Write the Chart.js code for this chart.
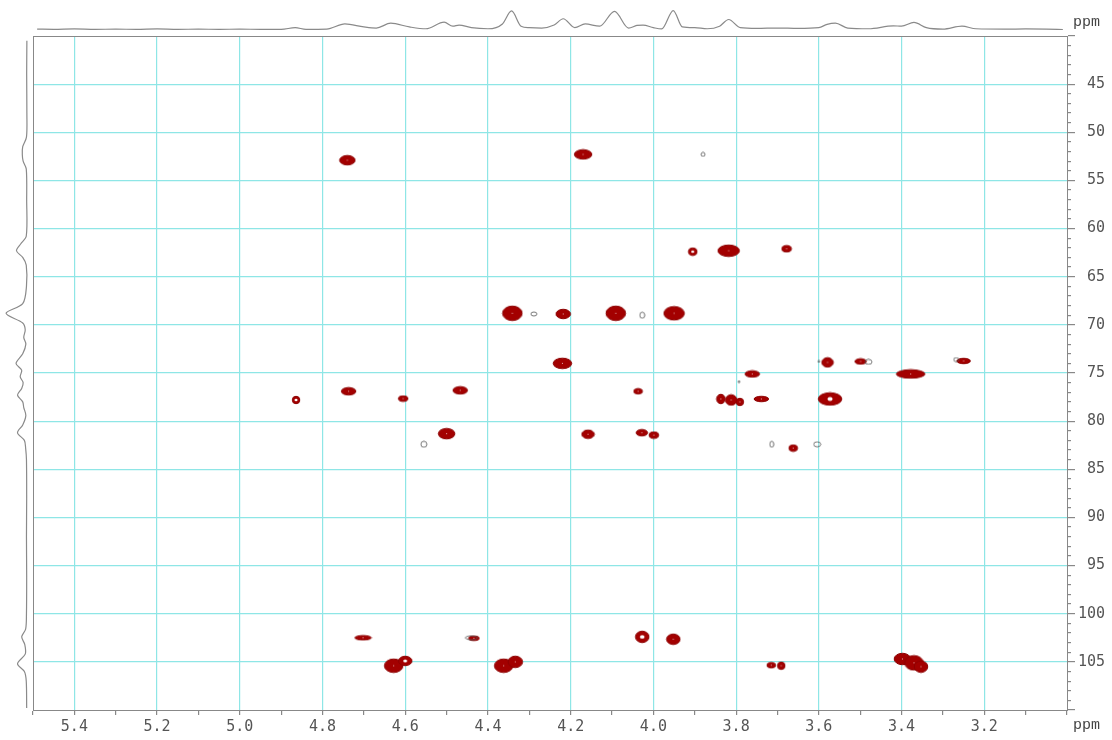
<!DOCTYPE html>
<html>
<head>
<meta charset="utf-8">
<script src="https://cdn.jsdelivr.net/npm/chart.js@4.4.1/dist/chart.umd.min.js"></script>
<style>
  html, body { margin: 0; padding: 0; background: #fff; }
  #wrap { position: relative; width: 1112px; height: 740px; }
  .box { position: absolute; }
  .ppm { position: absolute; font-family: "Liberation Mono", monospace; font-size: 15px; color: #444; }
</style>
</head>
<body>
<div id="wrap">
  <div class="box" style="left:0;top:0;width:1112px;height:740px"><canvas id="main"></canvas></div>
  <div class="box" style="left:33px;top:8px;width:1034px;height:23px"><canvas id="topProj"></canvas></div>
  <div class="box" style="left:4px;top:36px;width:26px;height:674px"><canvas id="leftProj"></canvas></div>
  <span class="ppm" style="left:1073px;top:14px">ppm</span>
  <span class="ppm" style="left:1073px;top:717px">ppm</span>
</div>

<script>
// cross peaks: 1H shift, 13C shift
const peakH = [4.74, 4.17, 3.905, 3.818, 3.678, 4.341, 4.218, 4.091, 3.950, 4.220,
  3.579, 3.499, 3.250, 3.761, 3.378, 4.864, 4.737, 4.605, 4.467, 4.037,
  3.837, 3.812, 3.791, 3.739, 3.573, 4.50, 4.158, 4.028, 3.999, 3.662,
  4.702, 4.434, 4.027, 3.952, 4.628, 4.600, 4.362, 4.334, 3.715, 3.691,
  3.398, 3.370, 3.353];
const peakC = [52.9, 52.3, 62.4, 62.3, 62.1, 68.8, 68.87, 68.8, 68.8, 74.0,
  73.9, 73.8, 73.75, 75.1, 75.1, 77.8, 76.9, 77.66, 76.8, 76.9,
  77.7, 77.8, 78.0, 77.7, 77.7, 81.3, 81.36, 81.2, 81.45, 82.8,
  102.5, 102.55, 102.4, 102.65, 105.4, 104.9, 105.4, 105.0, 105.35, 105.4,
  104.7, 105.1, 105.5];

// weak (negative) contour spots
const weakH = [4.289, 4.027, 4.555, 3.714, 3.604, 3.48, 3.88, 3.793, 3.268, 4.44, 3.60];
const weakC = [68.87, 69.0, 82.4, 82.4, 82.4, 73.85, 52.3, 75.9, 73.6, 102.5, 73.8];

// 1H projection (top)
const projHppm = [5.49, 5.45, 5.40, 5.35, 5.30, 5.25, 5.20, 5.15, 5.10, 5.05, 5.00, 4.95, 4.90,
  4.866, 4.84, 4.79, 4.746, 4.70, 4.67, 4.635, 4.59, 4.55, 4.506, 4.485, 4.47, 4.44, 4.40,
  4.365, 4.343, 4.32, 4.30, 4.27, 4.24, 4.218, 4.19, 4.165, 4.13, 4.094, 4.06, 4.04, 4.025,
  4.00, 3.98, 3.952, 3.93, 3.90, 3.87, 3.84, 3.818, 3.79, 3.75, 3.70, 3.65, 3.60, 3.58, 3.56,
  3.53, 3.48, 3.42, 3.40, 3.37, 3.34, 3.30, 3.254, 3.22, 3.15, 3.10, 3.05, 3.01];
const projHval = [2, 1, 3, 1, 2, 1, 3, 1, 2, 1, 2, 1, 1,
  10, 1, 2, 30, 14, 8, 34, 14, 4, 40, 18, 24, 10, 4,
  30, 100, 18, 10, 8, 24, 58, 10, 30, 18, 98, 8, 22, 24,
  10, 3, 102, 14, 10, 4, 18, 54, 10, 6, 8, 6, 10, 28, 34,
  8, 4, 20, 18, 38, 10, 2, 18, 4, 2, 3, 2, 0];

// 13C projection (left)
const projCppm = [40.5, 44, 48, 50.5, 51.5, 52.3, 53.0, 53.8, 57, 60.8, 61.6, 62.3, 63.0, 63.8,
  66, 67.8, 68.8, 69.8, 70.5, 71.3, 72, 73, 74, 74.7, 75.4, 76, 76.6, 77.3, 78, 78.6, 79.4,
  80.4, 81.2, 82, 82.8, 84, 88, 92, 96, 100, 101.6, 102.4, 103.2, 104.2, 105.2, 106, 107, 109.8];
const projCval = [0, 1, 0, 2, 20, 22, 18, 3, 1, 3, 30, 50, 20, 3,
  2, 20, 100, 20, 8, 15, 5, 20, 52, 25, 32, 18, 25, 45, 20, 15, 5,
  20, 45, 12, 6, 2, 1, 2, 1, 2, 6, 25, 10, 8, 45, 12, 3, 1];

// marker shapes (px) for the contour blobs
const blobW = [14, 16, 7, 20, 8, 18, 13, 18, 19, 17, 10, 10, 12, 13, 27, 6, 13, 8, 13, 7,
  7, 10, 6, 13, 22, 15, 11, 10, 8, 7, 15, 9, 12, 12, 17, 12, 17, 13, 7, 6, 15, 17, 12];
const blobH = [8, 8, 6, 10, 5, 13, 8, 13, 12, 9, 8, 4, 4, 5, 7, 6, 6, 4, 6, 4,
  8, 9, 6, 4, 11, 9, 7, 5, 5, 5, 3, 3, 10, 9, 12, 8, 12, 10, 4, 6, 10, 13, 10];
const blobHole = [0, 0, 1, 0, 0, 0, 0, 0, 0, 0, 0, 0, 0, 0, 0, 1, 0, 0, 0, 0,
  0, 0, 0, 0, 1, 0, 0, 0, 0, 0, 0, 0, 1, 0, 0, 1, 0, 0, 0, 0, 0, 0, 0];
const weakW = [6, 5, 6, 4, 7, 7, 4, 2, 5, 12, 2];
const weakHt = [4, 6, 6, 6, 5, 5, 4, 2, 4, 4, 2];

function blob(w, h, hole) {
  w += 1.5;
  h += 1.5;
  const c = document.createElement("canvas");
  c.width = Math.ceil(w) + 2;
  c.height = Math.ceil(h) + 2;
  const g = c.getContext("2d");
  g.beginPath();
  g.ellipse(c.width / 2, c.height / 2, w / 2, h / 2, 0, 0, Math.PI * 2);
  g.fillStyle = "#a30000";
  g.fill();
  g.lineWidth = 1;
  g.strokeStyle = "#8c0000";
  g.stroke();
  if (hole) {
    const r = Math.max(1.2, Math.min(w, h) * 0.2);
    g.beginPath();
    g.ellipse(c.width / 2, c.height / 2, r, r * 0.8, 0, 0, Math.PI * 2);
    g.fillStyle = "#fff";
    g.fill();
  } else {
    g.fillStyle = "rgba(255,255,255,0.7)";
    g.fillRect(c.width / 2 - 0.5, c.height / 2 - 0.5, 1, 1);
  }
  return c;
}

function ring(w, h) {
  const c = document.createElement("canvas");
  c.width = w + 2;
  c.height = h + 2;
  const g = c.getContext("2d");
  g.beginPath();
  g.ellipse(c.width / 2, c.height / 2, w / 2, h / 2, 0, 0, Math.PI * 2);
  g.lineWidth = 0.8;
  g.strokeStyle = "#555";
  g.stroke();
  return c;
}

const blobImgs = peakH.map((_, i) => blob(blobW[i], blobH[i], blobHole[i]));
const weakImgs = weakH.map((_, i) => ring(weakW[i], weakHt[i]));

const gridCyan = "#8ee6e6";
const axisGrey = "#888";
const tickFont = { family: "DejaVu Sans Mono", size: 15 };

const frame = {
  id: "frame",
  afterDraw(chart) {
    const a = chart.chartArea;
    const g = chart.ctx;
    g.save();
    g.strokeStyle = axisGrey;
    g.lineWidth = 1;
    g.strokeRect(a.left + 0.5, a.top + 0.5, a.right - a.left, a.bottom - a.top);
    g.restore();
  }
};

const isTenth2 = v => Math.round(v * 10) % 2 === 0;
const isFive = v => Math.round(v) % 5 === 0;

new Chart(document.getElementById("main"), {
  type: "scatter",
  data: {
    datasets: [
      {
        data: weakH.map((h, i) => ({ x: h, y: weakC[i] })),
        pointStyle: c => weakImgs[c.dataIndex],
        pointRadius: 3
      },
      {
        data: peakH.map((h, i) => ({ x: h, y: peakC[i] })),
        pointStyle: c => blobImgs[c.dataIndex],
        pointRadius: 3
      }
    ]
  },
  options: {
    responsive: true,
    maintainAspectRatio: false,
    animation: false,
    events: [],
    layout: { padding: { left: 33, top: 36, right: 7, bottom: 0 } },
    plugins: { legend: { display: false }, tooltip: { enabled: false } },
    scales: {
      x: {
        type: "linear",
        position: "bottom",
        min: 3.0,
        max: 5.5,
        reverse: true,
        afterBuildTicks: s => {
          const t = [];
          for (let k = 30; k <= 55; k++) t.push({ value: k / 10 });
          s.ticks = t;
        },
        afterFit: s => { s.height = 30; },
        ticks: {
          autoSkip: false,
          maxRotation: 0,
          padding: 3,
          color: "#555",
          font: tickFont,
          callback: v => (isTenth2(v) && v > 3.05 && v < 5.45 ? v.toFixed(1) : "")
        },
        grid: {
          color: c => (c.tick && isTenth2(c.tick.value) && c.tick.value > 3.05 && c.tick.value < 5.45 ? gridCyan : "rgba(0,0,0,0)"),
          tickColor: axisGrey,
          tickLength: 5,
          lineWidth: 1.2
        },
        border: { color: axisGrey }
      },
      y: {
        type: "linear",
        position: "right",
        min: 40,
        max: 110,
        reverse: true,
        afterBuildTicks: s => {
          const t = [];
          for (let k = 40; k <= 110; k++) t.push({ value: k });
          s.ticks = t;
        },
        afterFit: s => { s.width = 38; },
        ticks: {
          autoSkip: false,
          crossAlign: "far",
          color: "#555",
          font: tickFont,
          callback: v => (isFive(v) && v > 40 && v < 110 ? String(v) : "")
        },
        grid: {
          color: c => (c.tick && isFive(c.tick.value) && c.tick.value > 40 && c.tick.value < 110 ? gridCyan : "rgba(0,0,0,0)"),
          tickColor: axisGrey,
          tickLength: 8,
          tickBorderDash: c => (c.tick && isFive(c.tick.value) ? [] : [3, 30]),
          lineWidth: 1.2
        },
        border: { color: axisGrey }
      }
    }
  },
  plugins: [frame]
});

// 1H projection along the top
new Chart(document.getElementById("topProj"), {
  type: "scatter",
  data: {
    datasets: [{
      data: projHppm.map((p, i) => ({ x: p, y: projHval[i] })),
      showLine: true,
      borderColor: "#8a8a8a",
      borderWidth: 1.2,
      pointRadius: 0,
      cubicInterpolationMode: "monotone"
    }]
  },
  options: {
    responsive: true,
    maintainAspectRatio: false,
    animation: false,
    events: [],
    layout: { padding: 0 },
    plugins: { legend: { display: false }, tooltip: { enabled: false } },
    scales: {
      x: { display: false, min: 3.0, max: 5.5, reverse: true },
      y: { display: false, min: -8, max: 116 }
    }
  }
});

// 13C projection along the left
new Chart(document.getElementById("leftProj"), {
  type: "scatter",
  data: {
    datasets: [{
      data: projCppm.map((p, i) => ({ x: projCval[i], y: p })),
      showLine: true,
      borderColor: "#8a8a8a",
      borderWidth: 1.2,
      pointRadius: 0,
      tension: 0.3
    }]
  },
  options: {
    responsive: true,
    maintainAspectRatio: false,
    animation: false,
    events: [],
    layout: { padding: 0 },
    plugins: { legend: { display: false }, tooltip: { enabled: false } },
    scales: {
      x: { display: false, min: -15, max: 110, reverse: true },
      y: { display: false, min: 40, max: 110, reverse: true }
    }
  }
});
</script>
</body>
</html>
